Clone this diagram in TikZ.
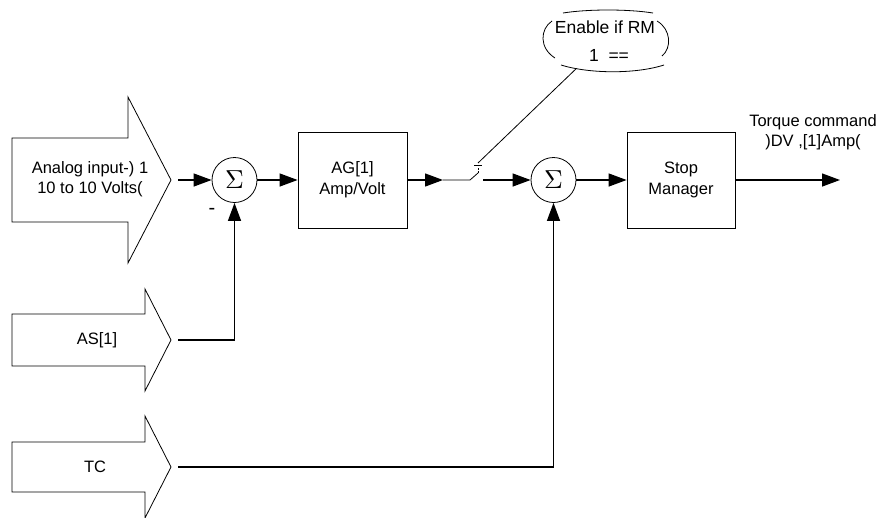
\documentclass[tikz,border=0pt]{standalone}
\usepackage{fontspec}
\usepackage{graphicx}
\setmainfont{Liberation Sans}
\usetikzlibrary{arrows.meta,shapes.geometric}

\tikzset{
  txt/.style={font=\fontsize{16.5}{20}\selectfont, align=center, inner sep=0pt},
  bigin/.style={draw=black, line width=0.8pt, fill=white, line join=miter},
  block/.style={draw=black, line width=0.8pt, minimum width=109pt, minimum height=96pt,
                font=\fontsize{16.5}{21}\selectfont, align=center},
  summer/.style={draw=black, line width=0.8pt, circle, minimum size=45pt, inner sep=0pt},
  conn/.style={draw=black, line width=1.3pt, -{Triangle[length=18pt,width=13pt]}},
  wire/.style={draw=black, line width=0.8pt},
}
\newcommand{\sumsign}{\scalebox{2.6}{$\Sigma$}}

\begin{document}
\begin{tikzpicture}[x=1pt,y=-1pt]
\useasboundingbox (0,0) rectangle (891,517);

% input arrows
\draw[bigin] (12,138) -- (128,138) -- (128,97) -- (171,180) -- (128,263) -- (128,222) -- (12,222) -- cycle;
\draw[bigin] (12,314) -- (145,314) -- (145,289) -- (171,340) -- (145,391) -- (145,366) -- (12,366) -- cycle;
\draw[bigin] (12,442) -- (145,442) -- (145,416) -- (171,467) -- (145,518) -- (145,492) -- (12,492) -- cycle;

\node[txt] (ain) at (90,179) {Analog input-) 1\\10 to 10 Volts(};
\node[txt] (as) at (97,340) {AS[1]};
\node[txt] (tc) at (95,467) {TC};

\coordinate (ainTip) at (178,180);
\coordinate (asTip) at (178,340);
\coordinate (tcTip) at (178,467);

% summing junctions and blocks
\node[summer] (s1) at (234.5,180) {\sumsign};
\node[summer] (s2) at (553.5,180) {\sumsign};
\node[block] (ag) at (352.5,180) {AG[1]\\Amp/Volt};
\node[block, minimum width=108pt] (sm) at (681,180) {Stop\\Manager};
\node[txt, font=\fontsize{20}{20}\selectfont] (minus) at (212,211) {-};

% enable condition bubble, drawn as four loose arcs
\node[ellipse, minimum width=124pt, minimum height=61pt, inner sep=0pt] (cond) at (605,41) {};
\draw[wire] (552,21) .. controls (540,29) and (539,48) .. (555,58);
\draw[wire] (657,21) .. controls (671,29) and (672,48) .. (662,56);
\draw[wire] (563,13) .. controls (588,9) and (628,9) .. (653,13);
\draw[wire] (561,65) .. controls (590,74) and (636,74) .. (664,65);
\node[txt, font=\fontsize{17.5}{28}\selectfont] (condtxt) at (605,41) {Enable if RM\\\hspace*{8pt}1\ \ ==};

% switch
\coordinate (swA) at (443,180);
\coordinate (swB) at (470,180);
\coordinate (swC) at (478,173);
\coordinate (swD) at (478,165);
\coordinate (swE) at (478,163);
\coordinate (swF) at (483,180);
\coordinate (out) at (840,180);

% connectors
\draw[conn] (ainTip) -- (s1);
\draw[conn] (asTip) -| (s1);
\draw[conn] (s1) -- (ag);
\draw[conn] (ag) -- (swA);
\draw[wire] (swA) -- (swB) -- (swC);
\draw[wire, dashed, dash pattern=on 2pt off 1.5pt] (swC) -- (swD);
\draw[wire] ([xshift=-4pt]swD) -- ([xshift=4pt]swD);
\draw[wire] (cond) -- (swE);
\draw[conn] (swF) -- (s2);
\draw[conn] (tcTip) -| (s2);
\draw[conn] (s2) -- (sm);
\draw[conn] (sm) -- (out);

\node[txt] (tq) at (813,132) {Torque command\\)DV ,[1]Amp(};
\end{tikzpicture}
\end{document}
